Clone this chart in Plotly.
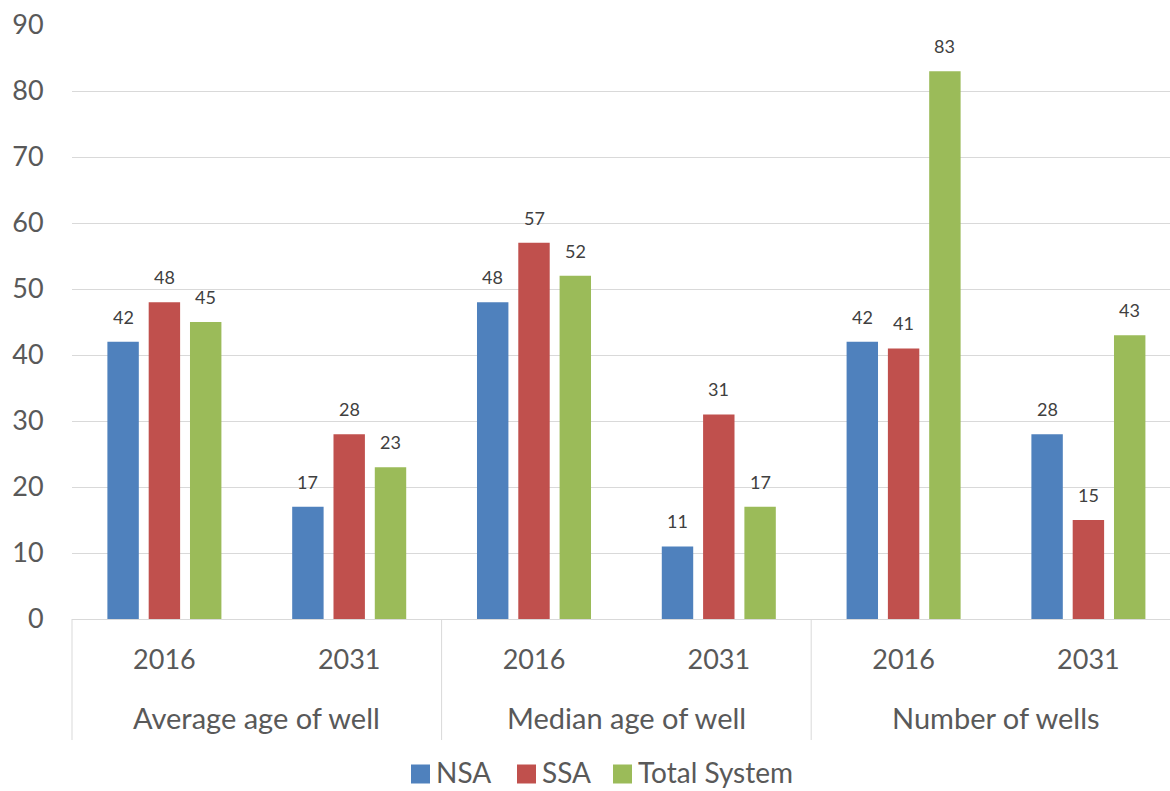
import plotly.graph_objects as go

# Chart data
years = ["2016", "2031", "2016", "2031", "2016", "2031"]
groups = ["Average age of well", "Median age of well", "Number of wells"]
series_names = ["NSA", "SSA", "Total System"]
nsa = [42, 17, 48, 11, 42, 28]
ssa = [48, 28, 57, 31, 41, 15]
total = [45, 23, 52, 17, 83, 43]
y_ticks = [0, 10, 20, 30, 40, 50, 60, 70, 80, 90]

colors = ["#4f81bd", "#c0504d", "#9bbb59"]
FONT = "Lato"
TICK_COLOR = "#595959"
LABEL_COLOR = "#404040"
GRID = "#d9d9d9"

W, H = 1170, 791
M_L, M_T, M_B = 72, 25, 172
CAT_PX = 184.8                      # pixel width of one category slot
plot_w = W - M_L
plot_h = H - M_T - M_B
x_max = -0.5 + plot_w / CAT_PX


def px_x(px):
    """Figure pixel column -> paper x."""
    return (px - M_L) / plot_w


def px_y(py):
    """Figure pixel row -> paper y."""
    return (H - M_B - py) / plot_h


slot = 0.2235                        # spacing between bars in a cluster
bar_w = 0.17

fig = go.Figure()
annotations = []
shapes = []
cats = list(range(len(years)))
for k, (name, vals, col) in enumerate(zip(series_names, [nsa, ssa, total], colors)):
    xs = [c + (k - 1) * slot for c in cats]
    fig.add_trace(go.Bar(
        x=xs, y=vals, width=bar_w, name=name, marker=dict(color=col, line=dict(width=0)),
        showlegend=False, hoverinfo="y",
    ))
    for x, v in zip(xs, vals):
        annotations.append(dict(
            x=x, y=v, xref="x", yref="y", text=str(v), showarrow=False,
            yanchor="bottom", yshift=12,
            font=dict(family=FONT, size=18, color=LABEL_COLOR),
        ))

# group labels under the year labels
for i, g in enumerate(groups):
    annotations.append(dict(
        x=2 * i + 0.5, y=px_y(717), xref="x", yref="paper",
        text=g, showarrow=False, yanchor="middle", xanchor="center",
        font=dict(family=FONT, size=29, color=TICK_COLOR),
    ))

# vertical dividers between the groups
div_bottom = px_y(740)
shapes.append(dict(type="line", xref="paper", yref="paper", x0=0, x1=0, y0=0, y1=div_bottom,
                   line=dict(color=GRID, width=1)))
for xv in [1.5, 3.5]:
    shapes.append(dict(type="line", xref="x", yref="paper", x0=xv, x1=xv, y0=0, y1=div_bottom,
                       line=dict(color=GRID, width=1)))

# legend row: colour swatch followed by series name
LEG_CY = 773
SW = 19
swatch_left = [411, 517, 613]
for name, col, left in zip(series_names, colors, swatch_left):
    shapes.append(dict(type="rect", xref="paper", yref="paper",
                       x0=px_x(left), x1=px_x(left + SW),
                       y0=px_y(LEG_CY + 1 + SW / 2), y1=px_y(LEG_CY + 1 - SW / 2),
                       fillcolor=col, line=dict(width=0)))
    annotations.append(dict(
        x=px_x(left + SW + 4), y=px_y(LEG_CY - 1), xref="paper", yref="paper",
        text=name, showarrow=False, xanchor="left", yanchor="middle",
        font=dict(family=FONT, size=28, color=TICK_COLOR),
    ))

fig.update_layout(
    width=W, height=H,
    margin=dict(l=M_L, r=0, t=M_T, b=M_B, pad=0),
    paper_bgcolor="white", plot_bgcolor="white",
    barmode="overlay",
    showlegend=False,
    font=dict(family=FONT, color=TICK_COLOR),
    xaxis=dict(
        range=[-0.5, x_max], tickmode="array", tickvals=cats, ticktext=years,
        showgrid=False, zeroline=False, showline=True, linecolor=GRID, linewidth=1,
        ticks="outside", ticklen=17, tickcolor="rgba(0,0,0,0)",
        tickfont=dict(family=FONT, size=27, color=TICK_COLOR),
    ),
    yaxis=dict(
        range=[0, 90], tickmode="array", tickvals=y_ticks,
        showgrid=True, gridcolor=GRID, gridwidth=1, zeroline=False, showline=False,
        ticks="outside", ticklen=22, tickcolor="rgba(0,0,0,0)",
        tickfont=dict(family=FONT, size=27, color=TICK_COLOR),
    ),
    annotations=annotations,
    shapes=shapes,
)

fig.write_html("out.html")
